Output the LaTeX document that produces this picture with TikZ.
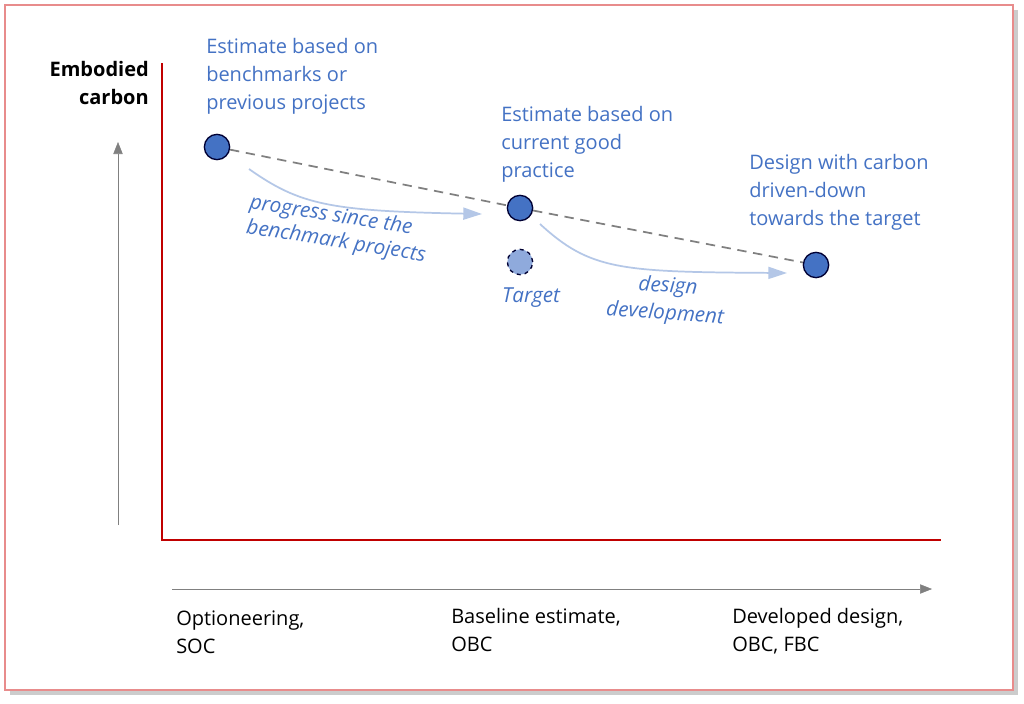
\documentclass[tikz,border=0pt]{standalone}
\usepackage{fontspec}
\setmainfont{Open Sans}
\usetikzlibrary{arrows.meta,shadows}
\definecolor{txtblue}{RGB}{68,114,196}
\definecolor{dotblue}{RGB}{68,114,196}
\definecolor{lightblue}{RGB}{180,199,231}
\definecolor{tgtblue}{RGB}{143,170,220}
\definecolor{axred}{RGB}{192,0,0}
\definecolor{framered}{RGB}{232,140,140}
\tikzset{
  lbl/.style={inner sep=0pt,align=left,text=txtblue,font=\fontsize{15}{21}\selectfont},
  blk/.style={inner sep=0pt,align=left,font=\fontsize{15}{21}\selectfont},
  itl/.style={inner sep=0pt,text=txtblue,font=\itshape\fontsize{15.5}{21}\selectfont},
  dot/.style={circle,draw=black!80!blue,line width=1pt,fill=dotblue,minimum size=19pt,inner sep=0pt},
  prog/.style={draw=lightblue,line width=1.3pt,-{Triangle[length=14pt,width=9pt]}}
}
\begin{document}
\begin{tikzpicture}[x=0.75pt,y=0.75pt,yscale=-1,xscale=1]
        \useasboundingbox (0,0) rectangle (1024,703);
        %Frame
        \fill[gray!40] (10,10) rectangle (1018,695);
        \draw[framered,line width=0.8pt,fill=white] (5,5) rectangle (1013,690);
        %Axes
        \draw[axred,line width=1.5pt] (162,63) -- (162,540) -- (941,540);
        \draw[gray,-{Triangle[length=9pt,width=7pt]}] (118,525) -- (118,142);
        \draw[gray,-{Triangle[length=9pt,width=7pt]}] (172,589) -- (932,589);
        %Points
        \node[dot] (bench) at (217,147) {};
        \node[dot] (base) at (520,208) {};
        \node[dot] (dev) at (816,265) {};
        \node[dot,fill=tgtblue,dashed] (tgt) at (520,262) {};
        \draw[gray,dashed,line width=1.3pt,dash pattern=on 7pt off 5pt] (bench) -- (base) -- (dev);
        \draw[prog] (249,169) .. controls (300,205) and (330,211) .. (482,214);
        \draw[prog] (540,224) .. controls (590,270) and (620,272) .. (787,273);
        % Text Node
        \node[blk,font=\bfseries\fontsize{15}{21}\selectfont,align=right,anchor=north east] (ylab) at (149,61) {Embodied\\carbon};
        \node[lbl,anchor=north west] (t1) at (206,38) {Estimate based on\\benchmarks or\\previous projects};
        \node[lbl,anchor=north west] (t2) at (501,106) {Estimate based on\\current good\\practice};
        \node[lbl,anchor=north west] (t3) at (749,154) {Design with carbon\\driven-down\\towards the target};
        \node[itl,rotate=-9] (p1a) at (331,216) {progress since the};
        \node[itl,rotate=-9] (p1b) at (336,242) {benchmark projects};
        \node[itl,rotate=-4] (p2a) at (668,287) {design};
        \node[itl,rotate=-4] (p2b) at (665,314) {development};
        \node[itl] (tt) at (531,298) {Target};
        \node[blk,anchor=north west] (x1) at (176,611) {Optioneering,\\SOC};
        \node[blk,anchor=north west] (x2) at (451,608) {Baseline estimate,\\OBC};
        \node[blk,anchor=north west] (x3) at (732,608) {Developed design,\\OBC, FBC};
\end{tikzpicture}
\end{document}
